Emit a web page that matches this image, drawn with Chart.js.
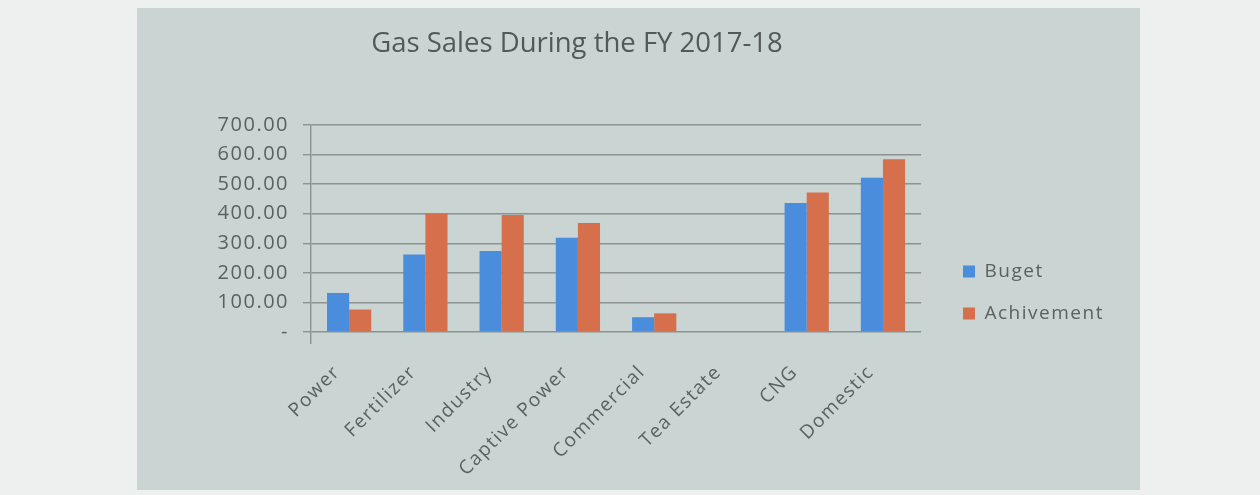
<!DOCTYPE html>
<html>
<head>
<meta charset="utf-8">
<script src="https://cdn.jsdelivr.net/npm/chart.js@4.4.1/dist/chart.umd.min.js"></script>
<style>
  html, body { margin: 0; padding: 0; background: #eef0ef; }
  #wrap { position: relative; width: 1260px; height: 495px; }
  canvas { display: block; }
</style>
</head>
<body>
<div id="wrap"><canvas id="c" width="1260" height="495"></canvas></div>
<script>
const categories = ["Power", "Fertilizer", "Industry", "Captive Power", "Commercial", "Tea Estate", "CNG", "Domestic"];
const budget = [132, 262, 274, 319, 50, 0, 436, 522];
const achievement = [76, 401, 396, 369, 63, 0, 472, 584];
const yTickLabels = { 0: "-", 100: "100.00", 200: "200.00", 300: "300.00", 400: "400.00", 500: "500.00", 600: "600.00", 700: "700.00" };
const seriesNames = ["Buget", "Achivement"];
const titleText = "Gas Sales During the FY 2017-18";

const textColor = "#5b6161";
const gridColor = "#8d9292";
const fontFamily = "'Open Sans', 'DejaVu Sans', sans-serif";

const panelPlugin = {
  id: "panel",
  beforeDraw(chart) {
    const ctx = chart.ctx;
    ctx.save();
    ctx.fillStyle = "#c9d4d3";
    ctx.fillRect(137, 8, 1003, 482);
    ctx.restore();
    // wide tracking like the scanned original (title excluded)
    ctx.letterSpacing = "1.5px";
    const tb = chart.titleBlock;
    if (tb && !tb._noTrack) {
      const orig = tb.draw.bind(tb);
      tb.draw = function (...args) {
        const c = this.ctx;
        const prev = c.letterSpacing;
        c.letterSpacing = "0px";
        orig(...args);
        c.letterSpacing = prev;
      };
      tb._noTrack = true;
    }
  },
  afterDraw(chart) {
    chart.ctx.letterSpacing = "0px";
  }
};

const legendShift = {
  id: "legendShift",
  afterLayout(chart) {
    const l = chart.legend;
    if (!l) return;
    const w = l.width;
    l.left = 940; l.right = 940 + w + 60;
    l.top = 239; l.bottom = 239 + 120;
  }
};

new Chart(document.getElementById("c"), {
  type: "bar",
  data: {
    labels: categories,
    datasets: [
      { label: seriesNames[0], data: budget, backgroundColor: "#4a8ddc" },
      { label: seriesNames[1], data: achievement, backgroundColor: "#d66f4b" }
    ]
  },
  options: {
    responsive: false,
    animation: false,
    devicePixelRatio: 1,
    layout: { padding: { left: 74, top: 8, right: 180, bottom: 5 } },
    datasets: { bar: { categoryPercentage: 0.58, barPercentage: 1.0 } },
    plugins: {
      title: {
        display: true,
        text: titleText,
        color: "#535858",
        font: { family: fontFamily, size: 27.5, weight: "normal" },
        padding: { top: 20, bottom: 64 }
      },
      legend: {
        display: true,
        position: "right",
        align: "start",
        labels: {
          boxWidth: 12,
          boxHeight: 12,
          padding: 23,
          color: textColor,
          font: { family: fontFamily, size: 19 }
        }
      },
      tooltip: { enabled: false }
    },
    scales: {
      y: {
        min: 0, max: 700,
        ticks: {
          stepSize: 100,
          padding: 14,
          color: textColor,
          font: { family: fontFamily, size: 20 },
          callback: (v) => yTickLabels[v] ?? ""
        },
        grid: { color: gridColor, lineWidth: 1.4, tickLength: 8, drawTicks: true },
        border: { display: true, color: gridColor, width: 1.4 },
        afterFit(scale) { scale.width = 237; }
      },
      x: {
        ticks: {
          minRotation: 45, maxRotation: 45,
          color: textColor,
          font: { family: fontFamily, size: 19 },
          padding: 17,
          labelOffset: -12
        },
        grid: {
          display: true,
          drawOnChartArea: false,
          drawTicks: true,
          tickLength: 12,
          lineWidth: 1.4,
          color: (c) => (c.index === 0 ? gridColor : "rgba(0,0,0,0)")
        },
        border: { display: false },
        afterFit(scale) { scale.height = 158; }
      }
    }
  },
  plugins: [panelPlugin, legendShift]
});
</script>
</body>
</html>
